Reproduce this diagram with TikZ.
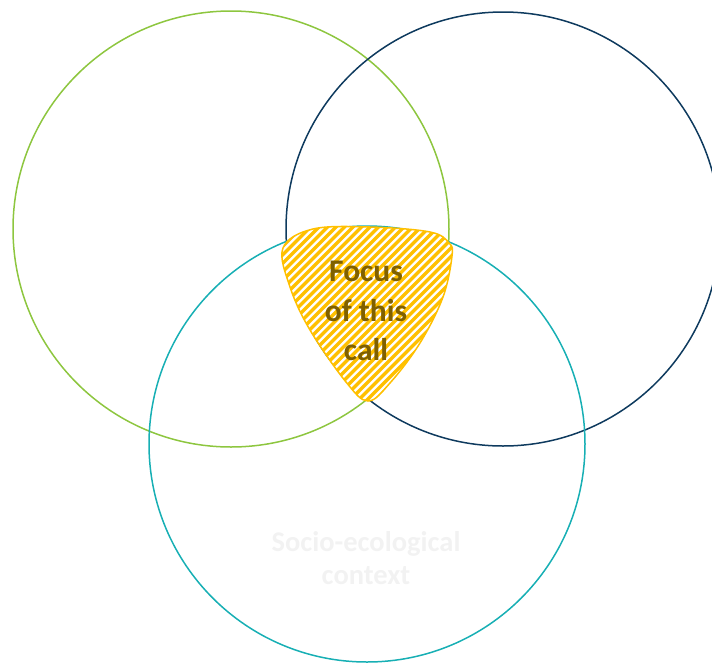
\documentclass[tikz,border=0pt]{standalone}
\usepackage{fontspec}
\setmainfont{Carlito}
\definecolor{cgreen}{HTML}{8DC63F}
\definecolor{cnavy}{HTML}{0E3A5E}
\definecolor{cteal}{HTML}{17AFB4}
\definecolor{cgold}{HTML}{FFC000}
\definecolor{ctext}{HTML}{7F6000}
\definecolor{clight}{HTML}{F2F2F2}
\begin{document}
\begin{tikzpicture}[x=1pt,y=-1pt,
  ring/.style={line width=1.5pt},
  focustext/.style={text=ctext,font=\bfseries\fontsize{31.5}{39.5}\selectfont,align=center},
  contexttext/.style={text=clight,font=\bfseries\fontsize{28.5}{33}\selectfont,align=center}]
\useasboundingbox (0,0) rectangle (712,662);
\draw[ring,cgreen] (231,229) circle[radius=218];
\draw[ring,cnavy] (503,229) circle[radius=217];
\draw[ring,cteal] (367,444) circle[radius=218];
\def\focuspath{plot[smooth cycle,tension=0.6] coordinates {(283,248) (313,229) (370,227) (430,232) (449,243) (452,256) (443,297) (420,343) (390,383) (368,401) (346,382) (310,330) (290,287)}}
\fill[white] \focuspath;
\begin{scope}
\clip \focuspath;
\foreach \i in {-220,-211.5,...,220}
  \draw[cgold,line width=3.3pt] (367+\i-200,314+200) -- (367+\i+200,314-200);
\end{scope}
\draw[cgold,line width=1.5pt] \focuspath;
\node[focustext] (focus) at (366,311) {Focus\\of this\\call};
\node[contexttext] (context) at (366,558) {Socio-ecological\\context};
\end{tikzpicture}
\end{document}
